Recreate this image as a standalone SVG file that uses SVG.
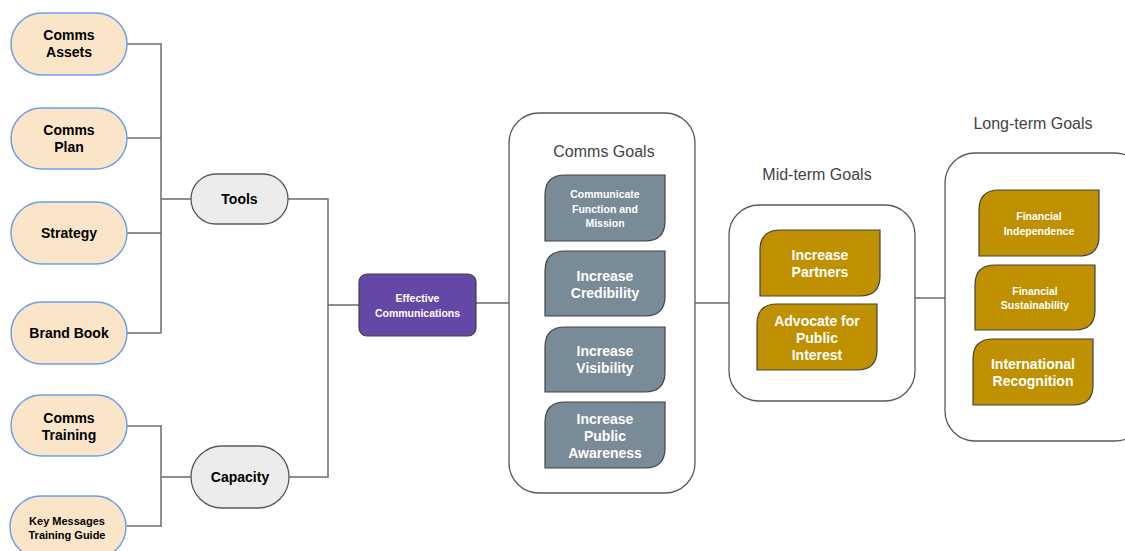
<svg xmlns="http://www.w3.org/2000/svg" width="1125" height="551" viewBox="0 0 1125 551">
<defs>
<style>
.pill{fill:#fbe5c8;stroke:#6d9eeb;stroke-width:1.5}
.gpill{fill:#ececec;stroke:#595959;stroke-width:1.3}
.cont{fill:#ffffff;stroke:#595959;stroke-width:1.3}
.blue{fill:#7a8b98;stroke:#434343;stroke-width:1.2}
.gold{fill:#bf9000;stroke:#434343;stroke-width:1.2}
.conn{fill:none;stroke:#6b6b6b;stroke-width:1.5}
text{font-family:"Liberation Sans",Arial,sans-serif;text-anchor:middle}
.b{font-weight:bold;fill:#000}
.w{font-weight:bold;fill:#fff}
.t{fill:#434343;font-size:16px}
</style>
</defs>
<rect width="1125" height="551" fill="#fff"/>
<g id="connectors">
<path class="conn" d="M127 44H161V333M127 138H161M127 233H161M127 333H161M161 199H191"/>
<path class="conn" d="M127 426H161V526H127M161 477H191"/>
<path class="conn" d="M288 199H328V477H289M328 305H359"/>
<path class="conn" d="M476 303H509M695 303H729M915 298H945"/>
</g>
<g id="comms-assets"><rect class="pill" x="11" y="13" width="116" height="62" rx="31"/><text class="b" font-size="14" x="69" y="40">Comms</text><text class="b" font-size="14" x="69" y="57">Assets</text></g>
<g id="comms-plan"><rect class="pill" x="11" y="108" width="116" height="61" rx="30.5"/><text class="b" font-size="14" x="69" y="135">Comms</text><text class="b" font-size="14" x="69" y="152">Plan</text></g>
<g id="strategy"><rect class="pill" x="11" y="202" width="116" height="62" rx="31"/><text class="b" font-size="14" x="69" y="238">Strategy</text></g>
<g id="brand-book"><rect class="pill" x="11" y="302" width="116" height="62" rx="31"/><text class="b" font-size="14" x="69" y="338">Brand Book</text></g>
<g id="comms-training"><rect class="pill" x="11" y="395" width="116" height="61" rx="30.5"/><text class="b" font-size="14" x="69" y="423">Comms</text><text class="b" font-size="14" x="69" y="440">Training</text></g>
<g id="key-messages"><rect class="pill" x="10" y="496" width="116" height="62" rx="31"/><text class="b" font-size="11" x="67" y="525">Key Messages</text><text class="b" font-size="11" x="67" y="539">Training Guide</text></g>
<g id="tools"><rect class="gpill" x="191" y="174" width="97" height="50" rx="25"/><text class="b" font-size="14" x="239.5" y="204">Tools</text></g>
<g id="capacity"><rect class="gpill" x="191" y="446" width="98" height="62" rx="31"/><text class="b" font-size="14" x="240" y="482">Capacity</text></g>
<g id="effective"><rect x="359" y="274" width="117" height="62" rx="8" fill="#6548a6" stroke="#434343" stroke-width="1.2"/><text class="w" font-size="10.5" x="417.5" y="302">Effective</text><text class="w" font-size="10.5" x="417.5" y="317">Communications</text></g>
<g id="comms-goals">
<rect class="cont" x="509" y="113" width="186" height="380" rx="30"/>
<text class="t" x="604" y="157">Comms Goals</text>
<path class="blue" d="M545 241V195Q545 175 565 175H665V221Q665 241 645 241Z"/>
<text class="w" font-size="10.5" x="605" y="198">Communicate</text><text class="w" font-size="10.5" x="605" y="213">Function and</text><text class="w" font-size="10.5" x="605" y="227">Mission</text>
<path class="blue" d="M545 316V271Q545 251 565 251H665V296Q665 316 645 316Z"/>
<text class="w" font-size="14" x="605" y="281">Increase</text><text class="w" font-size="14" x="605" y="298">Credibility</text>
<path class="blue" d="M545 392V347Q545 327 565 327H665V372Q665 392 645 392Z"/>
<text class="w" font-size="14" x="605" y="356">Increase</text><text class="w" font-size="14" x="605" y="373">Visibility</text>
<path class="blue" d="M545 468V422Q545 402 565 402H665V448Q665 468 645 468Z"/>
<text class="w" font-size="14" x="605" y="424">Increase</text><text class="w" font-size="14" x="605" y="441">Public</text><text class="w" font-size="14" x="605" y="458">Awareness</text>
</g>
<g id="mid-term-goals">
<rect class="cont" x="729" y="205" width="186" height="196" rx="30"/>
<text class="t" x="817" y="180">Mid-term Goals</text>
<path class="gold" d="M760 296V250Q760 230 780 230H880V276Q880 296 860 296Z"/>
<text class="w" font-size="14" x="820" y="260">Increase</text><text class="w" font-size="14" x="820" y="277">Partners</text>
<path class="gold" d="M757 370V324Q757 304 777 304H877V350Q877 370 857 370Z"/>
<text class="w" font-size="14" x="817" y="326">Advocate for</text><text class="w" font-size="14" x="817" y="343">Public</text><text class="w" font-size="14" x="817" y="360">Interest</text>
</g>
<g id="long-term-goals">
<rect class="cont" x="945" y="153" width="200" height="288" rx="30"/>
<text class="t" x="1033" y="129">Long-term Goals</text>
<path class="gold" d="M979 256V210Q979 190 999 190H1099V236Q1099 256 1079 256Z"/>
<text class="w" font-size="10.5" x="1039" y="220">Financial</text><text class="w" font-size="10.5" x="1039" y="235">Independence</text>
<path class="gold" d="M975 330V285Q975 265 995 265H1095V310Q1095 330 1075 330Z"/>
<text class="w" font-size="10.5" x="1035" y="295">Financial</text><text class="w" font-size="10.5" x="1035" y="309">Sustainability</text>
<path class="gold" d="M973 405V359Q973 339 993 339H1093V385Q1093 405 1073 405Z"/>
<text class="w" font-size="14" x="1033" y="369">International</text><text class="w" font-size="14" x="1033" y="386">Recognition</text>
</g>
</svg>
